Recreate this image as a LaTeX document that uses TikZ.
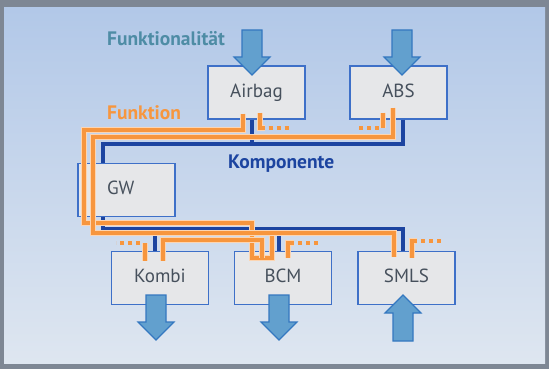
\documentclass[tikz,border=0pt]{standalone}
\usepackage{fontspec}
\setmainfont{PT Sans}
\usepackage{tikz}
\usetikzlibrary{calc}
\definecolor{fkt}{RGB}{247,150,62}
\definecolor{kblue}{RGB}{28,68,160}
\definecolor{boxblue}{RGB}{62,112,200}
\definecolor{boxgray}{RGB}{230,231,233}
\definecolor{boxtext}{RGB}{70,80,92}
\definecolor{arrowfill}{RGB}{98,160,206}
\definecolor{arrowdraw}{RGB}{52,120,192}
\definecolor{tealtext}{RGB}{78,140,165}
\definecolor{framegray}{RGB}{126,135,148}
\definecolor{bgtop}{RGB}{178,200,232}
\definecolor{bgbot}{RGB}{222,230,240}
\tikzset{
  box/.style={draw=boxblue,line width=1.3pt,fill=boxgray,minimum width=97pt,minimum height=53pt,
    inner sep=0pt,font=\fontsize{19}{21}\selectfont,text=boxtext,text height=13.5pt,text depth=4pt},
  lbl/.style={font=\fontsize{19.5}{21}\selectfont\bfseries,anchor=base west,inner sep=0pt},
  bus/.style={draw=kblue,line width=3.8pt},
  fline/.style={draw=fkt,line width=4pt,preaction={draw=fkt!40,line width=6.2pt}},
  fdots/.style={draw=fkt,line width=4pt,dash pattern=on 4pt off 4pt},
  farrow/.style={fill=arrowfill,draw=arrowdraw,line width=1.2pt,line join=miter}
}
% x, tail y, tip y, head length (signed)
\newcommand{\fatarrow}[4]{%
  \draw[farrow] ({#1-10},#2) -- ({#1+10},#2) -- ({#1+10},{#3-(#4)}) -- ({#1+18},{#3-(#4)}) -- (#1,#3)
    -- ({#1-18},{#3-(#4)}) -- ({#1-10},{#3-(#4)}) -- cycle;}
\begin{document}
\begin{tikzpicture}[x=1pt,y=-1pt]
  \useasboundingbox (0,0) rectangle (549,369);
  \fill[framegray] (0,0) rectangle (549,369);
  \shade[top color=bgtop,bottom color=bgbot] (4,8) rectangle (545,363);

  % ECUs
  \node[box] at (256.5,92.5) (airbag) {Airbag};
  \node[box] at (398.5,92.5) (abs) {ABS};
  \node[box,text width=39pt,align=left] at (126.5,190) (gw) {GW};
  \node[box] at (160,278) (kombi) {Kombi};
  \node[box] at (283,278) (bcm) {BCM};
  \node[box] at (406.5,278) (smls) {SMLS};

  \node[lbl,text=tealtext] at (107,46) (lfunktionalitaet) {Funktionalität};
  \node[lbl,text=fkt] at (107,119) (lfunktion) {Funktion};
  \node[lbl,text=kblue] at (228,168) (lkomponente) {Komponente};

  % Komponente (bus)
  \coordinate (tl) at (103,144);
  \coordinate (bl) at (103,229);
  \draw[bus] ([xshift=-4.5pt]airbag.south) -- ++(0,25);
  \draw[bus] ([xshift=4.5pt]abs.south) |- (tl) -- (tl |- gw.north);
  \draw[bus] (bl |- gw.south) -- (bl) -| ([xshift=-3.5pt]smls.north);
  \foreach \n/\dx in {kombi/-5,bcm/-4}
    \draw[bus] ([xshift=\dx pt]\n.north) -- ([xshift=\dx pt]\n.north |- bl);

  % Funktion
  \draw[fline] ([xshift=-13.5pt,yshift=6pt]airbag.south) -- ++(0,16) -| (84,223)
    -- (252,223) -- ([xshift=-31pt,yshift=-7pt]bcm.north) -- ++(20,0) -- (272,233);
  \draw[fline] ([xshift=-5.5pt,yshift=12pt]abs.south) -- ++(0,29) -| (93,233)
    -| ([xshift=-12.5pt,yshift=-6pt]smls.north);
  \draw[fline] ([xshift=3pt,yshift=-10pt]kombi.north) |- (262,240)
    -- ([xshift=-21pt,yshift=-7pt]bcm.north);

  \draw[fline] ([xshift=3.5pt,yshift=7pt]airbag.south) -- ++(0,15) -- ++(5,0);
  \draw[fdots] ([xshift=12pt,yshift=-8pt]airbag.south) -- ++(22,0);
  \draw[fline] ([xshift=-15.5pt,yshift=7pt]abs.south) -- ++(0,15);
  \draw[fdots] ([xshift=-20pt,yshift=-8pt]abs.south) -- ++(-22,0);
  \draw[fline] ([xshift=-15pt,yshift=-10pt]kombi.north) -- ++(0,-18);
  \draw[fdots] ([xshift=-20pt,yshift=8pt]kombi.north) -- ++(-24,0);
  \draw[fline] ([xshift=5pt,yshift=-7pt]bcm.north) -- ++(0,-15) -- ++(6,0);
  \draw[fdots] ([xshift=15pt,yshift=8pt]bcm.north) -- ++(22,0);
  \draw[fline] ([xshift=5.5pt,yshift=-7pt]smls.north) -- ++(0,-17) -- ++(5,0);
  \draw[fdots] ([xshift=14.5pt,yshift=10pt]smls.north) -- ++(22,0);

  % Funktionalitaet
  \fatarrow{252}{30}{75}{18}
  \fatarrow{402}{30}{75}{18}
  \fatarrow{156}{295}{340}{18}
  \fatarrow{279}{295}{340}{18}
  \fatarrow{403}{341}{295}{-18}
\end{tikzpicture}
\end{document}
